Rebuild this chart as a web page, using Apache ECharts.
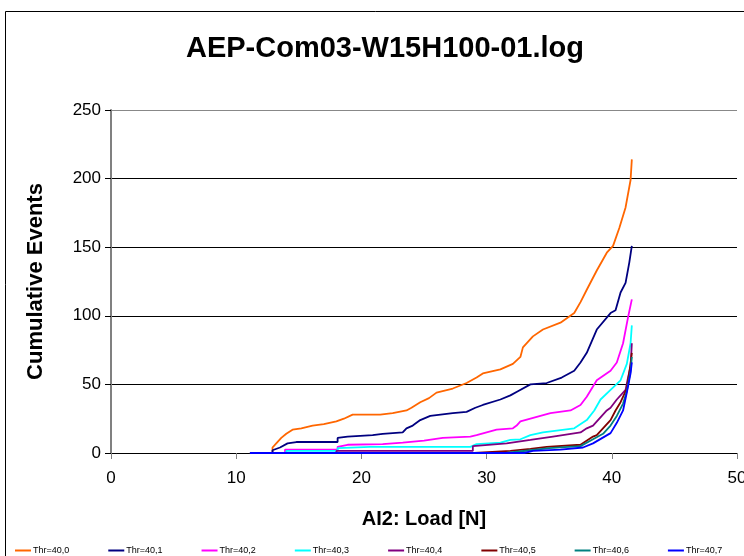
<!DOCTYPE html>
<html>
<head>
<meta charset="utf-8">
<script src="https://cdn.jsdelivr.net/npm/echarts@6/dist/echarts.min.js"></script>
<style>
  html, body { margin: 0; padding: 0; background: #fff; }
  #main { width: 744px; height: 556px; }
</style>
</head>
<body>
<div id="main"></div>
<script>
// 图例名称
var names = ['Thr=40,0', 'Thr=40,1', 'Thr=40,2', 'Thr=40,3', 'Thr=40,4', 'Thr=40,5', 'Thr=40,6', 'Thr=40,7'];
var colors = ['#ff6600', '#000080', '#ff00ff', '#00ffff', '#800080', '#800000', '#008080', '#0000ff'];

// 各阈值的累计事件 [载荷, 事件数]
var thr0 = [[11.5,0],[12.9,0],[12.9,4],[13.2,7],[13.6,11],[14.0,14],[14.5,17],[15.2,18],[16.1,20],[17.0,21],[18.0,23],[18.6,25],[19.3,28],[21.5,28],[22.5,29],[23.6,31],[24.0,33],[24.7,37],[25.4,40],[26.0,44],[27.3,47],[28.4,51],[29.2,55],[29.7,58],[31.1,61],[32.1,65],[32.7,70],[32.9,77],[33.7,85],[34.5,90],[35.9,95],[37.0,102],[37.5,110],[38.0,119],[38.8,133],[39.6,146],[40.1,151],[40.6,164],[41.1,179],[41.5,199],[41.6,214]];
var thr1 = [[11.1,0],[12.9,0],[12.9,2],[13.5,4],[14.1,7],[14.8,8],[18.1,8],[18.1,11],[18.9,12],[20.9,13],[21.7,14],[23.3,15],[23.6,18],[24.1,20],[24.7,24],[25.5,27],[27.3,29],[28.4,30],[29.1,33],[29.7,35],[31.1,39],[31.9,42],[32.5,45],[33.5,50],[34.8,51],[36.0,55],[37.0,60],[37.5,66],[38.0,73],[38.8,90],[39.9,102],[40.3,104],[40.7,117],[41.1,124],[41.4,139],[41.6,151]];
var thr2 = [[11.1,0],[13.9,0],[13.9,2.5],[18.1,2.5],[18.1,4.5],[18.9,6],[21.7,6.5],[23.3,7.5],[25.0,9],[26.5,11],[28.7,12],[29.2,13],[30.8,17],[32.1,18],[32.4,20],[32.7,23],[35.1,29],[36.7,31],[37.5,35],[38.0,41],[38.8,53],[39.9,60],[40.4,66],[40.9,80],[41.3,99],[41.6,112]];
var thr3 = [[11.1,0],[14.0,0],[14.0,1.5],[18.1,1.5],[18.1,3.5],[20.7,4.5],[28.7,4.5],[29.2,6.5],[31.1,7.5],[31.9,9.5],[32.7,10],[33.5,13],[34.5,15],[37.0,18],[38.0,24],[38.6,31],[39.1,39],[39.9,46],[40.7,53],[41.2,65],[41.5,80],[41.6,93]];
var thr4 = [[11.1,0],[18.0,0],[18.0,1.5],[28.9,1.5],[28.9,5],[31.6,7],[33.5,9.5],[35.3,12],[37.5,15],[38.0,18],[38.5,20],[39.6,31],[39.9,33],[40.4,39],[41.1,46],[41.3,55],[41.5,63],[41.6,80]];
var thr5 = [[11.1,0],[29.0,0],[29.0,1],[31.9,1.5],[33.5,3],[34.8,4.5],[37.5,6],[38.5,12],[38.8,13],[39.9,24],[40.3,31],[40.7,37],[41.2,47],[41.5,65],[41.6,73]];
var thr6 = [[11.1,0],[31.5,0],[31.5,1],[33.5,2],[35.0,3.5],[37.5,5],[38.5,10],[39.3,14],[39.9,20],[40.4,27],[40.9,36],[41.2,45],[41.5,60],[41.6,70]];
var thr7 = [[11.1,0],[33.0,0],[33.7,1.5],[35.9,2.5],[37.7,4],[38.5,7],[39.9,14.5],[40.4,22],[40.9,31],[41.2,44],[41.5,58],[41.6,66]];

var allData = [thr0, thr1, thr2, thr3, thr4, thr5, thr6, thr7];

var series = [];
allData.forEach(function (d, i) {
  series.push({
    name: names[i],
    type: 'line',
    data: d,
    symbol: 'none',
    animation: false,
    lineStyle: { color: colors[i], width: 1.8 },
    itemStyle: { color: colors[i] }
  });
});

var myChart = echarts.init(document.getElementById('main'));
var option = {
  backgroundColor: '#fff',
  title: {
    text: 'AEP-Com03-W15H100-01.log',
    left: 380,
    top: 29,
    textAlign: 'center',
    textStyle: { fontFamily: 'Liberation Sans', fontSize: 29, fontWeight: 'bold', color: '#000' }
  },
  graphic: [{
    type: 'rect',
    shape: { x: 5.5, y: 11.5, width: 800, height: 600 },
    style: { fill: 'none', stroke: '#000', lineWidth: 1 },
    silent: true
  }],
  grid: { left: 111, top: 110, right: 7, bottom: 103, outerBoundsMode: 'none' },
  legend: {
    data: names,
    left: 10,
    top: 541,
    itemWidth: 16,
    itemHeight: 2,
    itemGap: 39,
    icon: 'rect',
    textStyle: { fontFamily: 'Liberation Sans', fontSize: 9, color: '#000', padding: [0, 0, 0, -3] }
  },
  xAxis: {
    type: 'value',
    min: 0, max: 50, interval: 10,
    name: 'AI2: Load [N]',
    nameLocation: 'middle',
    nameGap: 56,
    nameTextStyle: { fontFamily: 'Liberation Sans', fontSize: 20, fontWeight: 'bold', color: '#000' },
    axisLine: { onZero: false, lineStyle: { color: '#000', width: 1 } },
    axisTick: { show: true, inside: false, length: 6, lineStyle: { color: '#808080' } },
    axisLabel: { margin: 17, fontFamily: 'Liberation Sans', fontSize: 17, color: '#000' },
    splitLine: { show: false }
  },
  yAxis: {
    type: 'value',
    min: 0, max: 250, interval: 50,
    name: 'Cumulative Events',
    nameLocation: 'middle',
    nameGap: 64,
    nameTextStyle: { fontFamily: 'Liberation Sans', fontSize: 22, fontWeight: 'bold', color: '#000' },
    axisLine: { show: true, lineStyle: { color: '#808080', width: 2 } },
    axisTick: { show: true, inside: false, length: 6, lineStyle: { color: '#000' } },
    axisLabel: { margin: 10, fontFamily: 'Liberation Sans', fontSize: 17, color: '#000' },
    splitLine: { show: true, lineStyle: { color: ['#000', '#000', '#000', '#000', '#000', '#888'], width: 1 } }
  },
  series: series
};
myChart.setOption(option);
</script>
</body>
</html>
